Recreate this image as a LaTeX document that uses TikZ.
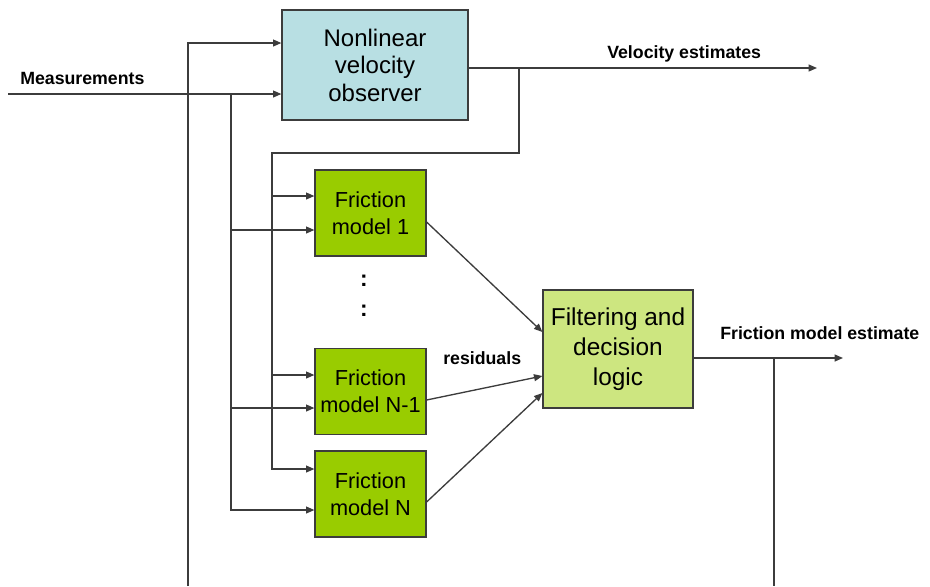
\documentclass[tikz,border=0pt]{standalone}
\usepackage{fontspec}
\setmainfont{Liberation Sans}
\usetikzlibrary{arrows.meta}
\definecolor{obsfill}{RGB}{184,223,227}
\definecolor{fmfill}{RGB}{153,204,0}
\definecolor{fltfill}{RGB}{205,230,128}
\definecolor{linegray}{RGB}{60,60,60}
\tikzset{
  wire/.style={draw=linegray, line width=1pt},
  arr/.style={wire, -{Triangle[length=6.3pt,width=5.2pt]}},
  blockbox/.style={draw=linegray, line width=0.9pt, align=center, inner sep=0pt},
  obsbox/.style={blockbox, fill=obsfill, minimum width=139.5pt, minimum height=82.5pt,
    font=\fontsize{18pt}{20.6pt}\selectfont},
  fmbox/.style={blockbox, fill=fmfill, minimum width=83.25pt, minimum height=64.5pt,
    font=\fontsize{16.3pt}{20.2pt}\selectfont},
  fltbox/.style={blockbox, fill=fltfill, minimum width=112.5pt, minimum height=88.5pt,
    font=\fontsize{18.3pt}{22.5pt}\selectfont},
  lbl/.style={anchor=base west, inner sep=0pt, font=\fontsize{13.3pt}{15pt}\selectfont\bfseries},
  dotlbl/.style={anchor=base, inner sep=0pt, font=\fontsize{17pt}{18pt}\selectfont\bfseries}
}
\begin{document}
\begin{tikzpicture}[x=0.75pt, y=-0.75pt]
\useasboundingbox (0,0) rectangle (930,586);

% blocks
\node[obsbox] (obs) at (375,65) {Nonlinear\\velocity\\observer};
\node[fmbox] (fm1) at (370.5,213) {Friction\\model 1};
\node[fmbox] (fmn1) at (370.5,391.5) {Friction\\model N-1};
\node[fmbox] (fmn) at (370.5,494) {Friction\\model N};
\node[fltbox] (flt) at (618,349) {Filtering and\\decision\\logic};

% vertical ellipsis between the model blocks
\node[dotlbl] (dotsa) at (364,286) {:};
\node[dotlbl] (dotsb) at (364,316) {:};

% labels
\node[lbl] (lmeas) at (20,84) {Measurements};
\node[lbl] (lvel) at (607,58) {Velocity estimates};
\node[lbl] (lres) at (443,364) {residuals};
\node[lbl] (lfme) at (720,339) {Friction model estimate};

% bus coordinates
\coordinate (min) at (8,94);
\coordinate (busA0) at (188,586);
\coordinate (busA1) at (188,43);
\coordinate (busB0) at (231,94);
\coordinate (vtap) at (519,68);
\coordinate (vbus) at (272,153);
\coordinate (velend) at (817,68);
\coordinate (fmeend) at (843,358);
\coordinate (ftap) at (774,358);
\coordinate (ftapend) at (774,586);

% measurements into the observer
\draw[arr] (min) -- (min -| obs.west);
\draw[arr] (busA0) -- (busA1) -- (busA1 -| obs.west);

% measurements to the friction models
\draw[arr] (busB0) |- (fmn.west |- 0,510);
\draw[arr] (231,230) -- (fm1.west |- 0,230);
\draw[arr] (231,408) -- (fmn1.west |- 0,408);

% velocity estimates out and to the friction models
\draw[arr] (obs.east |- vtap) -- (velend);
\draw[arr] (vtap) |- (vbus) |- (fmn.west |- 0,469);
\draw[arr] (272,196) -- (fm1.west |- 0,196);
\draw[arr] (272,375) -- (fmn1.west |- 0,375);

% residuals into the decision logic
\draw[arr] (fm1.east |- 0,222) -- (flt.west |- 0,332);
\draw[arr] (fmn1.east |- 0,400) -- (flt.west |- 0,376);
\draw[arr] (fmn.east |- 0,502) -- (flt.west |- 0,393);

% friction model estimate
\draw[arr] (flt.east |- fmeend) -- (fmeend);
\draw[wire] (ftap) -- (ftapend);
\end{tikzpicture}
\end{document}
